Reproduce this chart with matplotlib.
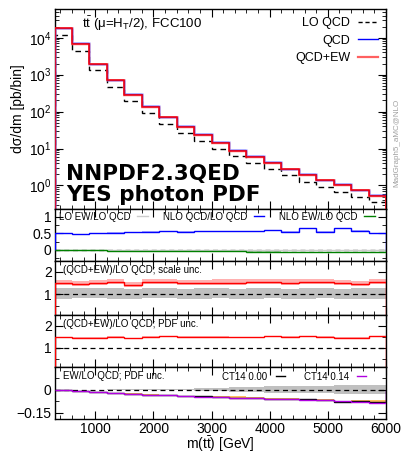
import numpy as np
import matplotlib
matplotlib.use("Agg")
import matplotlib.pyplot as plt
from matplotlib.ticker import MultipleLocator, FixedLocator, LogLocator, NullFormatter, FuncFormatter
from matplotlib.lines import Line2D

plt.rcParams['font.family'] = ['Liberation Sans', 'DejaVu Sans']
plt.rcParams['mathtext.default'] = 'regular'

# ---------------- data ----------------
bin_edges = [300, 600, 900, 1200, 1500, 1800, 2100, 2400, 2700, 3000, 3300,
             3600, 3900, 4200, 4500, 4800, 5100, 5400, 5700, 6000]

lo_qcd = [1.2e4, 4.5e3, 1.3e3, 460, 190, 90, 46, 27, 15.8, 9.8, 6.3, 4.1,
          2.8, 1.9, 1.26, 0.9, 0.65, 0.48, 0.36]
qcd = [1.8e4, 7.0e3, 1.95e3, 720, 300, 138, 73, 40.5, 24.5, 15, 9.2, 6.1,
       4.3, 2.85, 2.05, 1.42, 1.1, 0.76, 0.54]
qcd_ew = [1.8e4, 6.9e3, 1.9e3, 700, 280, 132, 70, 39, 23.7, 14.3, 8.8, 5.9,
          4.1, 2.75, 1.95, 1.37, 1.05, 0.73, 0.52]

nlo_qcd_ratio = [0.51, 0.48, 0.50, 0.52, 0.54, 0.55, 0.57, 0.55, 0.57, 0.57,
                 0.57, 0.56, 0.60, 0.55, 0.65, 0.55, 0.66, 0.58, 0.50]
nlo_ew_ratio = [-0.005, -0.01, -0.015, -0.02, -0.025, -0.028, -0.032, -0.036,
                -0.04, -0.042, -0.045, -0.048, -0.05, -0.053, -0.056, -0.058,
                -0.062, -0.065, -0.07]
lo_ew_ratio = [0.0] * 19

scale_ratio = [1.49, 1.46, 1.49, 1.55, 1.43, 1.54, 1.55, 1.52, 1.49, 1.52,
               1.52, 1.55, 1.55, 1.52, 1.55, 1.55, 1.49, 1.45, 1.55]
scale_up = [1.62, 1.58, 1.62, 1.68, 1.56, 1.67, 1.68, 1.65, 1.62, 1.66,
            1.66, 1.69, 1.70, 1.66, 1.70, 1.69, 1.63, 1.58, 1.70]
scale_dn = [1.40, 1.37, 1.40, 1.45, 1.35, 1.45, 1.46, 1.43, 1.40, 1.43,
            1.43, 1.46, 1.46, 1.43, 1.46, 1.46, 1.40, 1.37, 1.46]
lo_scale_up = [1.30, 1.28, 1.28, 1.28, 1.26, 1.28, 1.28, 1.26, 1.28, 1.28,
               1.26, 1.28, 1.28, 1.26, 1.28, 1.28, 1.26, 1.28, 1.28]
lo_scale_dn = [0.82, 0.83, 0.83, 0.81, 0.82, 0.83, 0.83, 0.82, 0.82, 0.83,
               0.82, 0.82, 0.83, 0.82, 0.82, 0.83, 0.82, 0.82, 0.82]

pdf_ratio = [1.48, 1.45, 1.47, 1.50, 1.44, 1.50, 1.52, 1.50, 1.49, 1.50,
             1.48, 1.48, 1.52, 1.50, 1.52, 1.50, 1.46, 1.45, 1.53]
pdf_up = [1.51, 1.48, 1.50, 1.53, 1.47, 1.53, 1.55, 1.53, 1.52, 1.53,
          1.51, 1.51, 1.55, 1.53, 1.55, 1.53, 1.49, 1.48, 1.56]
pdf_dn = [1.45, 1.42, 1.44, 1.47, 1.41, 1.47, 1.49, 1.47, 1.46, 1.47,
          1.45, 1.45, 1.49, 1.47, 1.49, 1.47, 1.43, 1.42, 1.50]

ew_ct14_014 = [-0.005, -0.012, -0.018, -0.024, -0.028, -0.033, -0.038, -0.043,
               -0.046, -0.050, -0.054, -0.056, -0.060, -0.063, -0.066, -0.068,
               -0.075, -0.078, -0.085]
ew_ct14_000 = [-0.005, -0.012, -0.018, -0.024, -0.027, -0.033, -0.037, -0.042,
               -0.045, -0.049, -0.052, -0.054, -0.060, -0.062, -0.064, -0.066,
               -0.082, -0.076, -0.078]
ew_ct14_000_up = [-0.003, -0.010, -0.016, -0.021, -0.022, -0.030, -0.033,
                  -0.040, -0.040, -0.045, -0.045, -0.048, -0.055, -0.055,
                  -0.058, -0.062, -0.072, -0.068, -0.068]
ew_ct14_000_dn = [-0.007, -0.014, -0.020, -0.027, -0.031, -0.036, -0.041,
                  -0.046, -0.050, -0.053, -0.058, -0.060, -0.065, -0.068,
                  -0.070, -0.072, -0.088, -0.082, -0.086]
ew_nnpdf_unc = [0.0, 0.0, 0.0, 0.001, 0.002, 0.003, 0.004, 0.006, 0.010,
                0.012, 0.015, 0.018, 0.020, 0.020, 0.022, 0.025, 0.028,
                0.030, 0.030]

xticks = [1000, 2000, 3000, 4000, 5000, 6000]

# ---------------- figure ----------------
W, H = 405, 455
fig = plt.figure(figsize=(W / 100, H / 100), dpi=100)
x0, x1 = 54.5, 386

def add(top, bot):
    return fig.add_axes([x0 / W, 1 - bot / H, (x1 - x0) / W, (bot - top) / H])

ax0 = add(9, 209)
ax1 = add(209, 261)
ax2 = add(261, 315)
ax3 = add(315, 367)
ax4 = add(367, 419)
axes = [ax0, ax1, ax2, ax3, ax4]

edges = np.array(bin_edges)

def band(ax, lo, hi, color, alpha=1.0, z=1):
    ax.stairs(hi, edges, baseline=lo, fill=True, color=color, alpha=alpha,
              lw=0, zorder=z)

# main panel
ax0.stairs(lo_qcd, edges, color='black', ls=(0, (4, 3)), lw=1.0, zorder=3)
ax0.stairs(qcd, edges, color='#8080ff', lw=2.0, alpha=0.3, zorder=3)
ax0.stairs(qcd, edges, color='blue', lw=1.0, zorder=4)
ax0.stairs(qcd_ew, edges, color='#ff8080', lw=2.0, alpha=0.3, zorder=4)
ax0.stairs(qcd_ew, edges, color='red', lw=1.1, zorder=5)
ax0.set_yscale('log')
ax0.set_ylim(0.23, 6e4)
ax0.set_ylabel('dσ/dm [pb/bin]', fontsize=10)
ax0.yaxis.set_label_coords(-0.09, 0.5)
ax0.yaxis.set_major_locator(LogLocator(base=10, numticks=10))
ax0.yaxis.set_minor_locator(LogLocator(base=10, subs=np.arange(2, 10), numticks=20))
ax0.yaxis.set_minor_formatter(NullFormatter())
ax0.text(0.083, 0.97, r'$t\bar{t}$ ($\mu$=H$_T$/2), FCC100', transform=ax0.transAxes,
         fontsize=9.5, va='top', ha='left')
handles = [Line2D([], [], color='black', ls=(0, (3, 2)), lw=1.0),
           Line2D([], [], color='blue', lw=1.0),
           Line2D([], [], color='#ff6060', lw=1.6)]
ax0.legend(handles, ['LO QCD', 'QCD', 'QCD+EW'], loc='upper right', frameon=False,
           markerfirst=False, fontsize=9, handlelength=1.6, labelspacing=0.45,
           borderaxespad=0.25, handletextpad=0.6)
ax0.text(0.035, 0.02, 'NNPDF2.3QED\nYES photon PDF', transform=ax0.transAxes,
         fontsize=15.5, fontweight='bold', family='DejaVu Sans', va='bottom',
         ha='left', linespacing=1.05)
fig.text(393 / W, 1 - 143 / H, 'MadGraph5_aMC@NLO', rotation=90, fontsize=5.8,
         color='#a0a0a0', ha='left', va='center')

# panel 2
band(ax1, np.array(nlo_ew_ratio) - 0.015, np.array(nlo_ew_ratio) + 0.005, '#a8d8a8', z=1)
band(ax1, np.array(nlo_qcd_ratio) - 0.012, np.array(nlo_qcd_ratio) + 0.012, '#b0b0ff', z=1)
ax1.axhline(0, color='black', ls=(0, (4, 3)), lw=0.9, zorder=2)
ax1.stairs(lo_ew_ratio, edges, color='#cccccc', lw=1.0, zorder=2)
ax1.stairs(nlo_qcd_ratio, edges, color='blue', lw=1.0, zorder=3)
ax1.stairs(nlo_ew_ratio, edges, color='green', lw=1.0, zorder=3)
ax1.set_ylim(-0.33, 1.23)
ax1.yaxis.set_major_locator(FixedLocator([0, 0.5, 1]))
ax1.yaxis.set_major_formatter(FuncFormatter(lambda v, p: '%g' % v))
ax1.yaxis.set_minor_locator(MultipleLocator(0.25))
lh = [Line2D([], [], color='#cccccc', lw=1.0), Line2D([], [], color='blue', lw=1.0),
      Line2D([], [], color='green', lw=1.0)]
ax1.legend(lh, ['LO EW/LO QCD', 'NLO QCD/LO QCD', 'NLO EW/LO QCD'], loc='upper left',
           ncol=3, frameon=False, markerfirst=False, fontsize=7, handlelength=1.1,
           columnspacing=1.5, handletextpad=0.7, borderaxespad=0.05,
           bbox_to_anchor=(0.0, 1.03))

# panel 3
band(ax2, lo_scale_dn, lo_scale_up, '#c0c0c0', z=1)
band(ax2, scale_dn, scale_up, '#ffb0b0', z=2)
ax2.axhline(1, color='black', ls=(0, (4, 3)), lw=0.9, zorder=3)
ax2.stairs(scale_ratio, edges, color='red', lw=1.0, zorder=4)
ax2.set_ylim(0.1, 2.47)
ax2.yaxis.set_major_locator(FixedLocator([1, 2]))
ax2.yaxis.set_minor_locator(MultipleLocator(0.5))
ax2.text(0.025, 0.93, '(QCD+EW)/LO QCD; scale unc.', transform=ax2.transAxes,
         fontsize=7, va='top')

# panel 4
band(ax3, pdf_dn, pdf_up, '#ffb0b0', z=2)
ax3.axhline(1, color='black', ls=(0, (4, 3)), lw=0.9, zorder=3)
ax3.stairs(pdf_ratio, edges, color='red', lw=1.0, zorder=4)
ax3.set_ylim(0.12, 2.5)
ax3.yaxis.set_major_locator(FixedLocator([1, 2]))
ax3.yaxis.set_minor_locator(MultipleLocator(0.5))
ax3.text(0.025, 0.93, '(QCD+EW)/LO QCD; PDF unc.', transform=ax3.transAxes,
         fontsize=7, va='top')

# panel 5
unc = np.array(ew_nnpdf_unc)
band(ax4, -unc, unc, '#c0c0c0', z=1)
band(ax4, ew_ct14_000_dn, ew_ct14_000_up, '#ffc060', z=2)
ax4.axhline(0, color='black', ls=(0, (4, 3)), lw=0.9, zorder=3)
ax4.stairs(ew_ct14_000, edges, color='black', lw=1.0, zorder=4)
ax4.stairs(ew_ct14_014, edges, color='#b000e0', lw=1.0, zorder=5)
ax4.set_ylim(-0.19, 0.145)
ax4.yaxis.set_major_locator(FixedLocator([-0.15, 0]))
ax4.yaxis.set_major_formatter(FuncFormatter(
    lambda v, p: '0' if abs(v) < 1e-9 else ('%g' % v).replace('-', '\u2212')))
ax4.yaxis.set_minor_locator(MultipleLocator(0.075))
ax4.text(0.025, 0.93, 'EW/LO QCD; PDF unc.', transform=ax4.transAxes,
         fontsize=7, va='top')
lh5 = [Line2D([], [], color='black', lw=1.0), Line2D([], [], color='#b000e0', lw=1.0)]
ax4.legend(lh5, ['CT14 0.00', 'CT14 0.14'], loc='upper right', ncol=2, frameon=False,
           markerfirst=False, fontsize=7, handlelength=0.9, columnspacing=1.9,
           handletextpad=0.9, borderaxespad=0.1, bbox_to_anchor=(0.955, 1.0))
ax4.set_xlabel(r'm($t\bar{t}$) [GeV]', fontsize=10, labelpad=-1)

for ax in axes:
    ax.set_xlim(300, 6000)
    ax.xaxis.set_major_locator(FixedLocator(xticks))
    ax.xaxis.set_minor_locator(MultipleLocator(200))
    ax.tick_params(which='both', direction='in', top=True, right=True, labelsize=10,
                   pad=2)
    ax.tick_params(which='major', length=6, width=0.8)
    ax.tick_params(which='minor', length=3, width=0.6)
    for s in ax.spines.values():
        s.set_linewidth(1.0)
    if ax is not ax4:
        ax.tick_params(labelbottom=False)

fig.savefig('out.png', dpi=100)
